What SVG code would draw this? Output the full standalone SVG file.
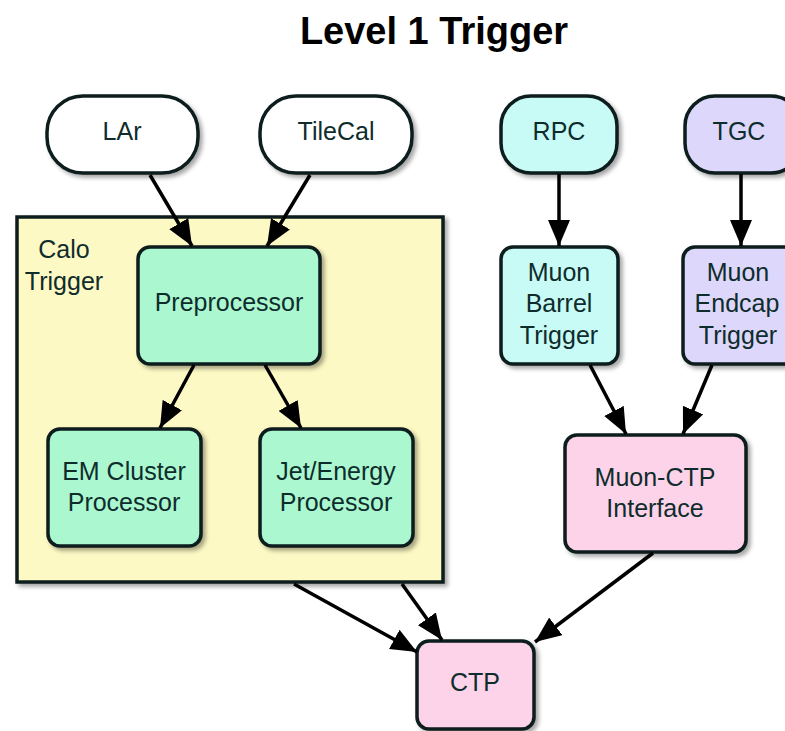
<svg xmlns="http://www.w3.org/2000/svg" width="785" height="731" viewBox="0 0 785 731">
<defs>
<style>
.n{stroke:#0a1c1c;stroke-width:3.5}
.t{font-family:"Liberation Sans",Arial,sans-serif;font-size:25px;fill:#0f2c2c;text-anchor:middle}
.title{font-family:"Liberation Sans",Arial,sans-serif;font-size:38px;font-weight:bold;fill:#000;text-anchor:middle}
.c{stroke:#000;stroke-width:3.5;fill:none;marker-end:url(#ah)}
.w{fill:#ffffff}.cy{fill:#c8fbf6}.lv{fill:#dcd7fb}.mt{fill:#abf8d0}.pk{fill:#fdd3ea}.yl{fill:#fdf9c4}
</style>
<filter id="sh" x="-10%" y="-10%" width="130%" height="130%">
<feDropShadow dx="3" dy="3" stdDeviation="2" flood-color="#000" flood-opacity="0.35"/>
</filter>
<marker id="ah" markerUnits="userSpaceOnUse" markerWidth="26" markerHeight="22" refX="26" refY="11" orient="auto" viewBox="0 0 26 22">
<path d="M0,0 L26,11 L0,22 z" fill="#000"/>
</marker>
</defs>
<rect width="785" height="731" fill="#ffffff"/>
<text class="title" x="434" y="44">Level 1 Trigger</text>

<g id="calo-trigger">
<rect class="n yl" x="17" y="217" width="426" height="365" stroke-width="4" filter="url(#sh)"/>
<text class="t" x="64" y="258">Calo</text>
<text class="t" x="64" y="290">Trigger</text>
</g>

<g id="lar"><rect class="n w" x="47" y="96" width="151" height="77" rx="36" filter="url(#sh)"/><text class="t" x="122" y="140">LAr</text></g>
<g id="tilecal"><rect class="n w" x="260" y="96" width="152" height="77" rx="36" filter="url(#sh)"/><text class="t" x="336" y="140">TileCal</text></g>
<g id="rpc"><rect class="n cy" x="501" y="96" width="116" height="77" rx="30" filter="url(#sh)"/><text class="t" x="559" y="140">RPC</text></g>
<g id="tgc"><rect class="n lv" x="685" y="96" width="116" height="77" rx="30" filter="url(#sh)"/><text class="t" x="739" y="140">TGC</text></g>

<g id="preprocessor"><rect class="n mt" x="138" y="247" width="182" height="117" rx="12" filter="url(#sh)"/><text class="t" x="229" y="311">Preprocessor</text></g>
<g id="muon-barrel"><rect class="n cy" x="501" y="247" width="117" height="117" rx="12" filter="url(#sh)"/><text class="t" x="559" y="281">Muon</text><text class="t" x="559" y="312">Barrel</text><text class="t" x="559" y="344">Trigger</text></g>
<g id="muon-endcap"><rect class="n lv" x="683" y="247" width="117" height="117" rx="12" filter="url(#sh)"/><text class="t" x="738" y="281">Muon</text><text class="t" x="737" y="312">Endcap</text><text class="t" x="738" y="344">Trigger</text></g>

<g id="em-cluster"><rect class="n mt" x="48" y="429" width="153" height="117" rx="12" filter="url(#sh)"/><text class="t" x="124" y="480">EM Cluster</text><text class="t" x="124" y="511">Processor</text></g>
<g id="jet-energy"><rect class="n mt" x="260" y="429" width="153" height="117" rx="12" filter="url(#sh)"/><text class="t" x="336" y="480">Jet/Energy</text><text class="t" x="336" y="511">Processor</text></g>
<g id="muon-ctp"><rect class="n pk" x="565" y="435" width="181" height="117" rx="12" filter="url(#sh)"/><text class="t" x="655" y="486">Muon-CTP</text><text class="t" x="655" y="517">Interface</text></g>
<g id="ctp"><rect class="n pk" x="417" y="641" width="117" height="88" rx="12" filter="url(#sh)"/><text class="t" x="475" y="691">CTP</text></g>

<g id="connectors">
<line class="c" x1="150" y1="175" x2="192" y2="246"/>
<line class="c" x1="310" y1="175" x2="267" y2="246"/>
<line class="c" x1="559" y1="174" x2="559" y2="246"/>
<line class="c" x1="741" y1="174" x2="741" y2="246"/>
<line class="c" x1="194" y1="365" x2="160" y2="428"/>
<line class="c" x1="265" y1="365" x2="301" y2="428"/>
<line class="c" x1="590" y1="365" x2="626" y2="434"/>
<line class="c" x1="712" y1="365" x2="683" y2="434"/>
<line class="c" x1="294" y1="584" x2="417" y2="652"/>
<line class="c" x1="402" y1="584" x2="442" y2="640"/>
<line class="c" x1="653" y1="553" x2="535" y2="642"/>
</g>
</svg>
